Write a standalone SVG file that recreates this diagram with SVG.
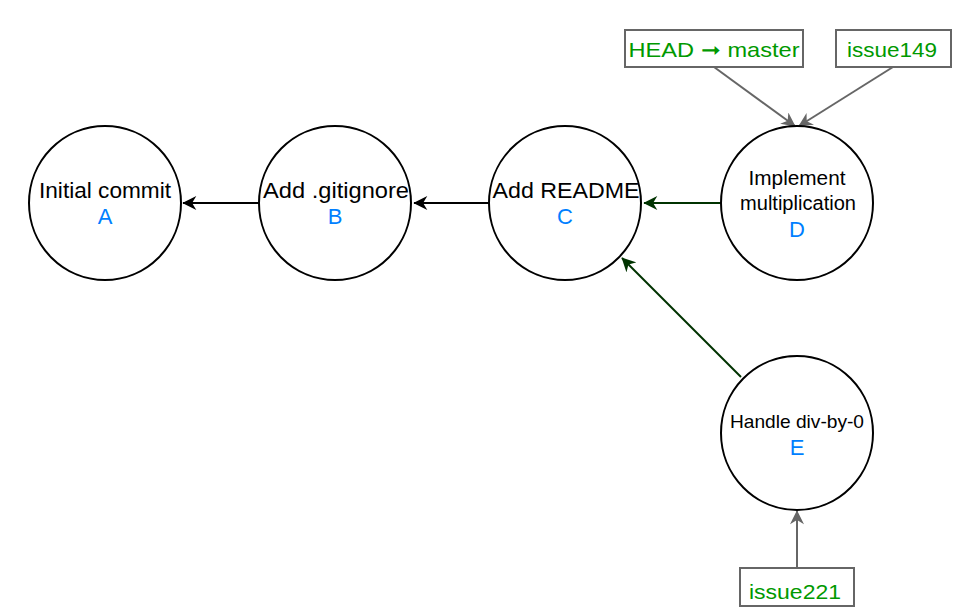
<svg xmlns="http://www.w3.org/2000/svg" width="972" height="616" viewBox="0 0 972 616">
<style>
.node{fill:#ffffff;stroke:#000000;stroke-width:2}
.t{font-family:"Liberation Sans",Arial,sans-serif;fill:#000000;text-anchor:middle}
.id{font-family:"Liberation Sans",Arial,sans-serif;fill:#007fff;text-anchor:middle;font-size:22px}
.ref{fill:#ffffff;stroke:#666666;stroke-width:2}
.rt{font-family:"Liberation Sans",Arial,sans-serif;fill:#009900;text-anchor:middle;font-size:21px}
.blk{stroke:#000000;stroke-width:2;fill:none}
.grn{stroke:#003300;stroke-width:2;fill:none}
.gry{stroke:#666666;stroke-width:2;fill:none}
</style>
<defs>
<marker id="mb" viewBox="0 0 10 10" refX="9.5" refY="5" markerWidth="15" markerHeight="14" markerUnits="userSpaceOnUse" orient="auto"><path d="M0,0 L10,5 L0,10 L3,5 z" fill="#000000"/></marker>
<marker id="mg" viewBox="0 0 10 10" refX="9.5" refY="5" markerWidth="15" markerHeight="14" markerUnits="userSpaceOnUse" orient="auto"><path d="M0,0 L10,5 L0,10 L3,5 z" fill="#003300"/></marker>
<marker id="mgr" viewBox="0 0 10 10" refX="9.5" refY="5" markerWidth="15" markerHeight="14" markerUnits="userSpaceOnUse" orient="auto"><path d="M0,0 L10,5 L0,10 L3,5 z" fill="#666666"/></marker>
</defs>
<g id="connectors">
<path class="blk" d="M259,203 L183,203" marker-end="url(#mb)"/>
<path class="blk" d="M489,203 L414,203" marker-end="url(#mb)"/>
<path class="grn" d="M721,203 L644,203" marker-end="url(#mg)"/>
<path class="grn" d="M741,377 L622,258" marker-end="url(#mg)"/>
<path class="gry" d="M714,67 L795,126" marker-end="url(#mgr)"/>
<path class="gry" d="M893,67 L799,126" marker-end="url(#mgr)"/>
<path class="gry" d="M797,567 L797,511" marker-end="url(#mgr)"/>
</g>
<g id="A">
<ellipse class="node" cx="105" cy="203" rx="76" ry="77"/>
<text class="t" x="105" y="198" font-size="22px" textLength="132" lengthAdjust="spacingAndGlyphs">Initial commit</text>
<text class="id" x="105" y="224">A</text>
</g>
<g id="B">
<ellipse class="node" cx="335" cy="203" rx="76" ry="77"/>
<text class="t" x="336" y="198" font-size="22px" textLength="146" lengthAdjust="spacingAndGlyphs">Add .gitignore</text>
<text class="id" x="335" y="224">B</text>
</g>
<g id="C">
<ellipse class="node" cx="565" cy="203" rx="76" ry="77"/>
<text class="t" x="566" y="198" font-size="22px" textLength="147" lengthAdjust="spacingAndGlyphs">Add README</text>
<text class="id" x="565" y="224">C</text>
</g>
<g id="D">
<ellipse class="node" cx="797" cy="203" rx="76" ry="77"/>
<text class="t" x="797" y="185" font-size="20px" textLength="97" lengthAdjust="spacingAndGlyphs">Implement</text>
<text class="t" x="798" y="210" font-size="20px" textLength="116" lengthAdjust="spacingAndGlyphs">multiplication</text>
<text class="id" x="797" y="237">D</text>
</g>
<g id="E">
<ellipse class="node" cx="797" cy="433" rx="76" ry="77"/>
<text class="t" x="797" y="428" font-size="18.5px" textLength="134" lengthAdjust="spacingAndGlyphs">Handle div-by-0</text>
<text class="id" x="797" y="455">E</text>
</g>
<g id="head">
<rect class="ref" x="625" y="30" width="178" height="37"/>
<text class="rt" x="714" y="57" textLength="171" lengthAdjust="spacingAndGlyphs">HEAD ➞ master</text>
</g>
<g id="issue149">
<rect class="ref" x="836" y="30" width="115" height="37"/>
<text class="rt" x="892" y="57" textLength="90" lengthAdjust="spacingAndGlyphs">issue149</text>
</g>
<g id="issue221">
<rect class="ref" x="740" y="568" width="114" height="38"/>
<text class="rt" x="795" y="599" textLength="92" lengthAdjust="spacingAndGlyphs">issue221</text>
</g>
</svg>
